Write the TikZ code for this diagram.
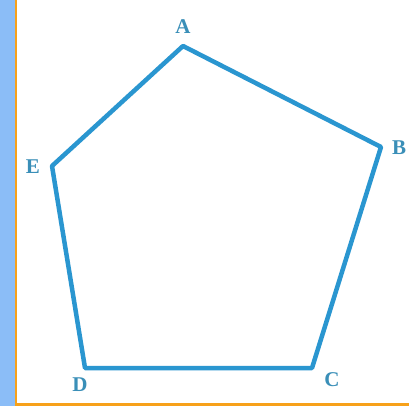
\documentclass[tikz,border=0pt]{standalone}
\usepackage{fontspec}
\setmainfont{Liberation Serif}
\definecolor{strip}{HTML}{8BBDF7}
\definecolor{frame}{HTML}{F7A11A}
\definecolor{edge}{HTML}{2A96D0}
\definecolor{lab}{HTML}{3A8FB8}
\begin{document}
\begin{tikzpicture}[x=1pt,y=-1pt,
  lbl/.style={text=lab,font=\fontsize{21}{21}\selectfont\bfseries,inner sep=0pt},
  side/.style={draw=edge,line width=4.5pt,line join=round,line cap=round}]
\useasboundingbox (0,0) rectangle (409,406);
\fill[white] (0,0) rectangle (409,406);
\fill[strip] (0,0) rectangle (15,406);
\fill[frame] (15,0) rectangle (17,406);
\fill[frame] (15,403) rectangle (409,406);
\coordinate (a) at (183,46);
\coordinate (b) at (381,147);
\coordinate (c) at (312,368);
\coordinate (d) at (85,368);
\coordinate (e) at (52,166);
\draw[side] (a) -- (b) -- (c) -- (d) -- (e) -- cycle;
\node[lbl] (la) at (183,27) {A};
\node[lbl] (lb) at (399,148) {B};
\node[lbl] (lc) at (332,380) {C};
\node[lbl] (ld) at (80,385) {D};
\node[lbl] (le) at (33,167) {E};
\end{tikzpicture}
\end{document}
